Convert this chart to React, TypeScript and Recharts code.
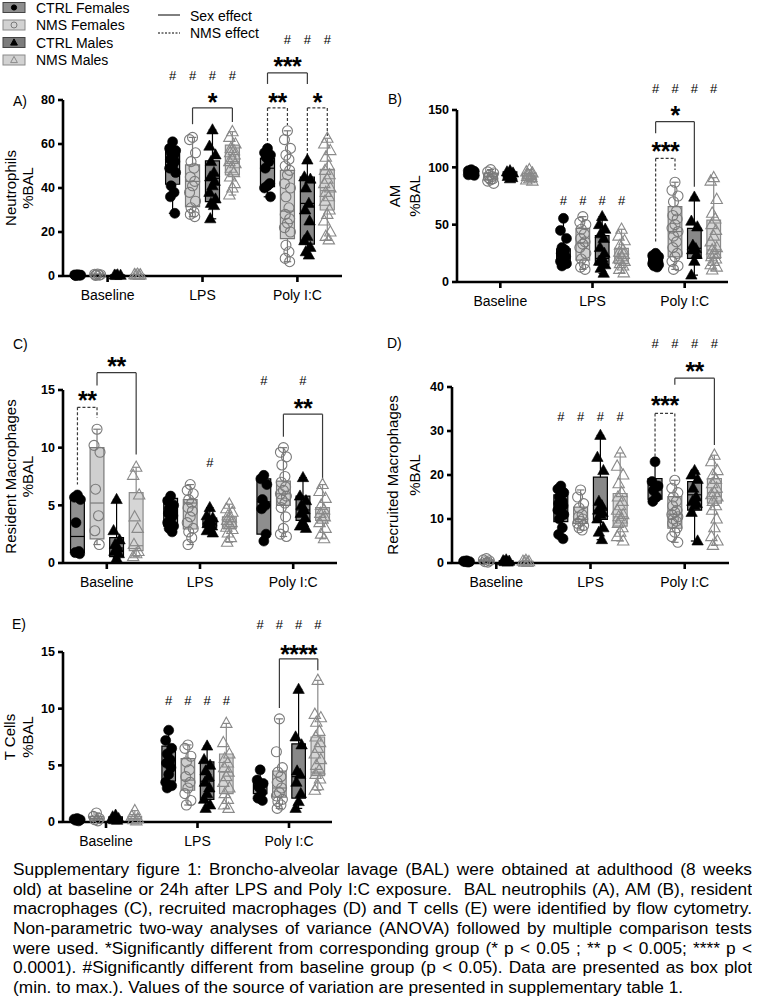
import React from 'react';
import {
  ComposedChart,
  XAxis,
  YAxis,
  Scatter,
  ReferenceArea,
  ReferenceLine,
  ReferenceDot,
} from 'recharts';

const FONT = '"Liberation Sans", Arial, Helvetica, sans-serif';

const CATEGORIES = ['Baseline', 'LPS', 'Poly I:C'];
const GROUPS = ['CTRL Females', 'NMS Females', 'CTRL Males', 'NMS Males'];

// ---------- A) Neutrophils %BAL ----------
const neutrophilsCtrlF = [
  [0.6, 0.5, 0.4, 0.3, 0.3, 0.2],
  [61, 58, 57, 56, 55, 53, 52, 50, 49, 47, 41, 38, 36, 28.5],
  [58, 56, 55, 54, 52, 49, 42, 41, 40, 36],
];
const neutrophilsNmsF = [
  [0.9, 0.8, 0.6, 0.5, 0.4, 0.3],
  [63, 62, 56, 52, 49, 45, 43, 41, 38, 34, 31, 29, 28, 27],
  [66, 62, 58, 55, 53, 50, 48, 46, 42, 40, 36, 31, 28, 26, 24, 22, 20, 14, 11, 8, 6.5],
];
const neutrophilsCtrlM = [
  [0.5, 0.4, 0.3, 0.2],
  [66.4, 59, 55, 52, 47, 45, 43, 41, 38, 35, 33, 32, 26],
  [52.7, 45, 44, 40, 33, 30, 25, 18, 16, 13, 11, 9.5],
];
const neutrophilsNmsM = [
  [0.8, 0.6, 0.5, 0.4, 0.3],
  [65.6, 63, 60, 58, 57, 56, 55, 53, 52, 51, 49, 47, 45, 42, 40, 36.8],
  [62.6, 60, 57, 54, 50, 48, 46, 44, 42, 40, 38, 36, 34, 30, 28, 25, 20, 18, 16.4],
];
// box statistics: [min, q1, median, q3, max]
const neutrophilsBoxCtrlF = [[0.2, 0.3, 0.35, 0.5, 0.6], [28.5, 41.7, 52, 57.7, 61], [36, 40.6, 49, 53.5, 58]];
const neutrophilsBoxNmsF = [[0.3, 0.4, 0.55, 0.8, 0.9], [27, 31.5, 43, 50.5, 63], [6.5, 17, 29.5, 48, 66]];
const neutrophilsBoxCtrlM = [[0.2, 0.25, 0.35, 0.45, 0.5], [26, 33.8, 44.4, 52.3, 66.4], [9.5, 14.5, 33, 45, 52.7]];
const neutrophilsBoxNmsM = [[0.3, 0.35, 0.5, 0.7, 0.8], [36.8, 46, 52, 59.5, 65.6], [16.4, 30, 38.8, 48.5, 62.6]];
const neutrophilsTicks = [0, 20, 40, 60, 80];
const neutrophilsHashes = [
  { cat: 1, groups: [0, 1, 2, 3], y: 91 },
  { cat: 2, groups: [1, 2, 3], y: 107.7 },
];
const neutrophilsBrackets = [
  { cat: 1, from: 1, to: 3, top: 76.4, left: 69, right: 70, dashed: false, stars: '*', starY: 81.5 },
  { cat: 2, from: 0, to: 2, top: 92.3, left: 87.3, right: 87.3, dashed: false, stars: '***', starY: 97.7 },
  { cat: 2, from: 0, to: 1, top: 76.4, left: 56.5, right: 68.6, dashed: true, stars: '**', starY: 81.5 },
  { cat: 2, from: 2, to: 3, top: 76.4, left: 54, right: 63, dashed: true, stars: '*', starY: 81.5 },
];

// ---------- B) AM %BAL ----------
const amCtrlF = [
  [98, 97, 96.5, 96, 95.5, 95, 94.5, 94, 93.5, 93],
  [55.5, 45, 38, 30, 28, 25, 22, 20, 18, 16, 14],
  [25, 23, 22, 21, 20, 19, 18, 17, 16, 15, 14, 13],
];
const amNmsF = [
  [98, 96, 95, 93, 92, 91, 90, 89, 88, 86],
  [57, 52, 50, 46, 42, 38, 35, 33, 30, 25, 20, 16, 13, 11],
  [87, 80, 75, 70, 62, 58, 55, 50, 47, 44, 40, 35, 30, 25, 22, 18, 14, 11],
];
const amCtrlM = [
  [97, 96, 95, 94, 93, 92, 91, 90],
  [57, 50, 46, 42, 38, 30, 25, 21, 18, 15, 12, 7.6],
  [74, 53, 48, 32, 29, 28, 24, 18, 6],
];
const amNmsM = [
  [98, 96, 95, 94, 93, 92, 91, 90, 89, 88],
  [46, 40, 36, 32, 28, 26, 24, 22, 20, 18, 16, 14, 11, 8],
  [91, 88, 72, 60, 55, 50, 45, 40, 35, 30, 28, 25, 22, 20, 18, 15, 13, 10.5],
];
const amBoxCtrlF = [[93, 94, 95.5, 97, 98], [14, 17, 22, 29, 55.5], [13, 14, 17, 22, 25]];
const amBoxNmsF = [[86, 89, 92, 95, 98], [11, 19, 34, 46.8, 57], [11, 22, 44, 65.7, 87]];
const amBoxCtrlM = [[90, 92, 94, 96, 97], [7.6, 15, 20.6, 40.4, 57], [6, 20.6, 29.4, 46.8, 74]];
const amBoxNmsM = [[88, 90, 92.5, 95, 98], [8, 16, 22, 29.4, 46], [10.5, 20.6, 28, 54, 91]];
const amTicks = [0, 50, 100, 150];
const amHashes = [
  { cat: 1, groups: [0, 1, 2, 3], y: 71.5 },
  { cat: 2, groups: [0, 1, 2, 3], y: 169 },
];
const amBrackets = [
  { cat: 2, from: 0, to: 2, top: 139.8, left: 129.7, right: 83, dashed: false, stars: '*', starY: 150 },
  { cat: 2, from: 0, to: 1, top: 107.8, left: 34, right: 97.7, dashed: true, stars: '***', starY: 118.6 },
];

// ---------- C) Resident Macrophages %BAL ----------
const residentCtrlF = [
  [5.9, 5.7, 5.5, 3.5, 1.0, 0.9, 0.8],
  [5.8, 5.4, 5.0, 4.7, 4.5, 4.3, 4.1, 3.8, 3.5, 3.2, 3.0, 2.7],
  [7.6, 7.3, 6.8, 5.5, 5.0, 4.7, 2.5, 1.9],
];
const residentNmsF = [
  [11.6, 10.2, 9.6, 6.4, 4.1, 2.8, 1.6],
  [6.8, 6.3, 6.0, 5.5, 5.2, 4.8, 4.5, 4.0, 3.5, 3.0, 2.7, 2.2, 1.6],
  [10.0, 9.6, 9.2, 8.5, 7.5, 7.0, 6.6, 6.3, 6.0, 5.8, 5.5, 5.2, 4.8, 4.0, 3.0, 2.5, 2.3],
];
const residentCtrlM = [
  [5.5, 2.8, 2.0, 1.6, 1.3, 1.0, 0.8, 0.4],
  [4.8, 4.1, 3.9, 3.7, 3.6, 3.4, 3.2, 3.0, 2.8, 2.6],
  [7.4, 5.8, 5.4, 5.0, 4.6, 4.3, 3.9, 3.5, 3.2, 3.0],
];
const residentNmsM = [
  [8.3, 7.6, 5.9, 4.0, 3.0, 1.6, 1.0, 0.8, 0.55],
  [5.1, 4.7, 4.4, 4.1, 3.9, 3.7, 3.5, 3.3, 3.1, 2.9, 2.6, 2.2, 1.8],
  [6.8, 6.2, 5.6, 5.0, 4.6, 4.3, 4.0, 3.8, 3.5, 3.0, 2.5, 2.1],
];
const residentBoxCtrlF = [[0.8, 0.9, 2.3, 5.5, 5.9], [2.7, 3.2, 4.4, 5.6, 5.8], [1.9, 2.5, 5.3, 7.3, 7.6]];
const residentBoxNmsF = [[1.6, 2.1, 5.2, 10, 11.6], [1.6, 2.95, 5.2, 5.5, 6.8], [2.3, 5.0, 6.0, 7.1, 10.0]];
const residentBoxCtrlM = [[0.4, 0.55, 1.3, 2.2, 5.5], [2.6, 3.1, 3.45, 3.9, 4.8], [3.0, 3.7, 4.6, 5.8, 7.4]];
const residentBoxNmsM = [[0.55, 1.07, 1.5, 6.1, 8.3], [1.8, 3.0, 3.6, 4.0, 5.1], [2.1, 3.7, 4.3, 4.8, 6.8]];
const residentTicks = [0, 5, 10, 15];
const residentHashes = [
  { cat: 1, groups: [2], y: 8.7 },
  { cat: 2, groups: [0, 2], y: 15.8 },
];
const residentBrackets = [
  { cat: 0, from: 1, to: 3, top: 16.5, left: 15.4, right: 9.4, dashed: false, stars: '**', starY: 17.5 },
  { cat: 0, from: 0, to: 1, top: 13.5, left: 6.8, right: 12.6, dashed: true, stars: '**', starY: 14.6 },
  { cat: 2, from: 1, to: 3, top: 12.9, left: 10.95, right: 7.2, dashed: false, stars: '**', starY: 13.9 },
];

// ---------- D) Recruited Macrophages %BAL ----------
const recruitedCtrlF = [
  [0.5, 0.4, 0.3, 0.3, 0.2],
  [17.5, 16.8, 16, 15, 14, 13.5, 13, 12.5, 12, 11, 10, 8, 6.5, 5.5],
  [23, 18.5, 17.5, 16.5, 15, 14],
];
const recruitedNmsF = [
  [1.0, 0.7, 0.5, 0.3, 0.2],
  [16.6, 15, 13.5, 12.5, 11, 10.5, 10, 9.5, 9, 8.5, 8, 7.5],
  [18.8, 17, 16, 15, 14, 13, 12, 11.5, 11, 10.5, 10, 9.5, 9, 8, 7, 6, 4.7],
];
const recruitedCtrlM = [
  [0.7, 0.5, 0.4, 0.3, 0.2],
  [29, 24, 21, 14, 13, 12, 11.5, 11, 10, 8, 7, 5.3],
  [21, 20, 19, 17, 15, 14, 13.5, 13, 11.5, 5],
];
const recruitedNmsM = [
  [0.6, 0.4, 0.3, 0.2, 0.1],
  [25, 22, 20, 18, 16, 15, 14, 13, 12, 11, 10.5, 10, 9, 8, 7, 6, 5],
  [24.5, 23, 21, 20, 19, 18, 17, 16, 15.5, 15, 14, 13, 12, 10, 8, 6, 5, 4],
];
const recruitedBoxCtrlF = [[0.2, 0.3, 0.3, 0.4, 0.5], [5.5, 9.4, 12.8, 15.5, 17.5], [14, 14.5, 16.6, 19.2, 23]];
const recruitedBoxNmsF = [[0.2, 0.3, 0.5, 0.7, 1.0], [7.5, 9.0, 9.9, 12.7, 16.6], [4.7, 7.9, 11.1, 15.1, 18.8]];
const recruitedBoxCtrlM = [[0.2, 0.3, 0.4, 0.5, 0.7], [5.3, 9.9, 12.0, 19.5, 29], [5, 12, 15.5, 18.5, 21]];
const recruitedBoxNmsM = [[0.1, 0.2, 0.3, 0.4, 0.6], [5, 8.4, 10.5, 15.8, 25], [4, 13.6, 16, 19.2, 24.5]];
const recruitedTicks = [0, 10, 20, 30, 40];
const recruitedHashes = [
  { cat: 1, groups: [0, 1, 2, 3], y: 33.4 },
  { cat: 2, groups: [0, 1, 2, 3], y: 50 },
];
const recruitedBrackets = [
  { cat: 2, from: 1, to: 3, top: 42, left: 40.5, right: 26.8, dashed: false, stars: '**', starY: 44.8 },
  { cat: 2, from: 0, to: 1, top: 34, left: 24.2, right: 20.4, dashed: true, stars: '***', starY: 37 },
];

// ---------- E) T Cells %BAL ----------
const tcellsCtrlF = [
  [0.3, 0.25, 0.2, 0.15, 0.1],
  [8.1, 7.2, 6.5, 6.0, 5.5, 5.2, 4.8, 4.2, 3.5, 3.2, 3.0],
  [4.6, 3.7, 3.4, 3.1, 2.6, 2.1, 1.9],
];
const tcellsNmsF = [
  [0.8, 0.5, 0.3, 0.2, 0.1],
  [6.8, 6.5, 5.8, 5.3, 4.6, 4.0, 3.5, 3.0, 2.5, 1.9, 1.5],
  [9.1, 6.2, 4.8, 4.4, 4.0, 3.5, 3.0, 2.6, 2.3, 2.0, 1.8, 1.5, 1.2],
];
const tcellsCtrlM = [
  [0.6, 0.45, 0.3, 0.2, 0.15],
  [6.7, 5.5, 5.0, 4.5, 4.0, 3.5, 3.0, 2.5, 2.0, 1.5, 1.2],
  [11.7, 7.5, 6.8, 4.5, 4.2, 3.5, 2.5, 1.8, 1.2],
];
const tcellsNmsM = [
  [1.0, 0.5, 0.3, 0.2, 0.1],
  [8.7, 7.0, 6.0, 5.6, 5.2, 4.8, 4.4, 4.0, 3.5, 3.0, 2.5, 2.0, 1.5, 1.2],
  [12.5, 9.5, 9.2, 8.8, 8.0, 7.5, 7.0, 6.5, 6.0, 5.5, 5.0, 4.6, 4.2, 3.8, 3.2, 2.8],
];
const tcellsBoxCtrlF = [[0.1, 0.15, 0.2, 0.25, 0.3], [3.0, 3.6, 5.2, 6.7, 8.1], [1.9, 2.5, 3.1, 3.6, 4.6]];
const tcellsBoxNmsF = [[0.1, 0.2, 0.3, 0.5, 0.8], [1.5, 2.8, 3.7, 5.6, 6.8], [1.2, 2.2, 3.0, 4.5, 9.1]];
const tcellsBoxCtrlM = [[0.15, 0.2, 0.3, 0.45, 0.6], [1.2, 2.0, 3.6, 5.3, 6.7], [1.2, 2.1, 4.0, 6.9, 11.7]];
const tcellsBoxNmsM = [[0.1, 0.2, 0.3, 0.5, 1.0], [1.2, 2.5, 4.4, 6.0, 8.7], [2.8, 4.1, 4.4, 7.5, 12.5]];
const tcellsTicks = [0, 5, 10, 15];
const tcellsHashes = [
  { cat: 1, groups: [0, 1, 2, 3], y: 10.7 },
  { cat: 2, groups: [0, 1, 2, 3], y: 17.4 },
];
const tcellsBrackets = [
  { cat: 2, from: 1, to: 3, top: 14.4, left: 10.05, right: 13.4, dashed: false, stars: '****', starY: 15.3 },
];

const CAPTION_LINES = [
  'Supplementary figure 1: Broncho-alveolar lavage (BAL) were obtained at adulthood (8 weeks',
  'old) at baseline or 24h after LPS and Poly I:C exposure.\u00a0 BAL neutrophils (A), AM (B), resident',
  'macrophages (C), recruited macrophages (D) and T cells (E) were identified by flow cytometry.',
  'Non-parametric two-way analyses of variance (ANOVA) followed by multiple comparison tests',
  'were used. *Significantly different from corresponding group (* p < 0.05 ; ** p < 0.005; **** p <',
  '0.0001). #Significantly different from baseline group (p < 0.05). Data are presented as box plot',
  '(min. to max.). Values of the source of variation are presented in supplementary table 1.',
];

// ---------- styling ----------
const GROUP_OFFSETS = [-0.315, -0.105, 0.105, 0.315];
const BOX_HALF = 0.074;
const CAP_HALF = 0.04;
const X_DOMAIN = [-0.47, 2.47];
const JITTER = [0, -3, 3, -1.5, 1.5, -2.2, 2.2];
const AXIS_STROKE = { stroke: '#000', strokeWidth: 2.6 };
const BRACKET_COLOR = '#3a3a3a';

const GROUP_STYLE = [
  { shape: 'circle', filled: true, mark: '#000', boxFill: '#8e8e8e', boxStroke: '#000' },
  { shape: 'circle', filled: false, mark: '#7a7a7a', boxFill: '#cfcfcf', boxStroke: '#7a7a7a' },
  { shape: 'triangle', filled: true, mark: '#000', boxFill: '#888888', boxStroke: '#000' },
  { shape: 'triangle', filled: false, mark: '#8a8a8a', boxFill: '#d6d6d6', boxStroke: '#8a8a8a' },
];

const PANELS = [
  {
    tag: 'A)', tagPos: [13, 106], title: ['Neutrophils', '%BAL'], titleX: [10, 27],
    left: 0, top: 0, width: 350, height: 310, margin: { top: 100, right: 8, bottom: 4, left: 0 }, yAxisWidth: 63,
    yDomain: [0, 80], yTicks: neutrophilsTicks,
    points: [neutrophilsCtrlF, neutrophilsNmsF, neutrophilsCtrlM, neutrophilsNmsM],
    boxes: [neutrophilsBoxCtrlF, neutrophilsBoxNmsF, neutrophilsBoxCtrlM, neutrophilsBoxNmsM],
    hashes: neutrophilsHashes, brackets: neutrophilsBrackets,
  },
  {
    tag: 'B)', tagPos: [388, 104], title: ['AM', '%BAL'], titleX: [14, 34],
    left: 380, top: 0, width: 382, height: 316, margin: { top: 110, right: 34, bottom: 4, left: 0 }, yAxisWidth: 77,
    yDomain: [0, 150], yTicks: amTicks,
    points: [amCtrlF, amNmsF, amCtrlM, amNmsM],
    boxes: [amBoxCtrlF, amBoxNmsF, amBoxCtrlM, amBoxNmsM],
    hashes: amHashes, brackets: amBrackets,
  },
  {
    tag: 'C)', tagPos: [13, 349], title: ['Resident Macrophages', '%BAL'], titleX: [10, 27],
    left: 0, top: 320, width: 350, height: 277, margin: { top: 70, right: 13, bottom: 4, left: 0 }, yAxisWidth: 63,
    yDomain: [0, 15], yTicks: residentTicks,
    points: [residentCtrlF, residentNmsF, residentCtrlM, residentNmsM],
    boxes: [residentBoxCtrlF, residentBoxNmsF, residentBoxCtrlM, residentBoxNmsM],
    hashes: residentHashes, brackets: residentBrackets,
  },
  {
    tag: 'D)', tagPos: [387, 348], title: ['Recruited Macrophages', '%BAL'], titleX: [12, 34],
    left: 380, top: 320, width: 382, height: 277, margin: { top: 67, right: 33, bottom: 4, left: 0 }, yAxisWidth: 72,
    yDomain: [0, 40], yTicks: recruitedTicks,
    points: [recruitedCtrlF, recruitedNmsF, recruitedCtrlM, recruitedNmsM],
    boxes: [recruitedBoxCtrlF, recruitedBoxNmsF, recruitedBoxCtrlM, recruitedBoxNmsM],
    hashes: recruitedHashes, brackets: recruitedBrackets,
  },
  {
    tag: 'E)', tagPos: [12, 629], title: ['T Cells', '%BAL'], titleX: [9, 27],
    left: 0, top: 600, width: 350, height: 256, margin: { top: 52, right: 18, bottom: 4, left: 0 }, yAxisWidth: 63,
    yDomain: [0, 15], yTicks: tcellsTicks,
    points: [tcellsCtrlF, tcellsNmsF, tcellsCtrlM, tcellsNmsM],
    boxes: [tcellsBoxCtrlF, tcellsBoxNmsF, tcellsBoxCtrlM, tcellsBoxNmsM],
    hashes: tcellsHashes, brackets: tcellsBrackets,
  },
];

const groupX = (cat: number, g: number) => cat + GROUP_OFFSETS[g];

function markerShape(g: number) {
  const st = GROUP_STYLE[g];
  return (props: any) => {
    const { cx, cy, payload } = props;
    if (cx == null || cy == null) return <g />;
    const x = cx + JITTER[(payload?.k ?? 0) % JITTER.length];
    if (st.shape === 'circle') {
      return (
        <circle cx={x} cy={cy} r={5} fill={st.filled ? '#000' : 'none'}
          stroke={st.mark} strokeWidth={st.filled ? 0.6 : 1.1} />
      );
    }
    return (
      <path d={`M${x},${cy - 6.2}L${x + 5.7},${cy + 4}L${x - 5.7},${cy + 4}Z`}
        fill={st.filled ? '#000' : 'none'} stroke={st.mark} strokeWidth={st.filled ? 0.6 : 1.1}
        strokeLinejoin="miter" />
    );
  };
}

function textShape(text: string, size: number, bold: boolean, lift: number) {
  return (props: any) => {
    const { cx, cy } = props;
    if (cx == null || cy == null) return <g />;
    return (
      <text x={cx} y={cy + lift} textAnchor="middle" fontFamily={FONT} fontSize={size}
        fontWeight={bold ? 700 : 400} fill="#000" letterSpacing={bold ? -0.5 : 0}>
        {text}
      </text>
    );
  };
}

function AxisTitle(props: any) {
  const { viewBox, lines, xs } = props;
  const cy = viewBox ? viewBox.y + viewBox.height / 2 : 0;
  return (
    <g>
      {lines.map((t: string, i: number) => (
        <text key={i} x={xs[i]} y={cy} transform={`rotate(-90 ${xs[i]} ${cy})`} textAnchor="middle"
          dominantBaseline="central" fontFamily={FONT} fontSize={15} fill="#000">
          {t}
        </text>
      ))}
    </g>
  );
}

function Panel({ cfg }: { cfg: any }) {
  const elements: any[] = [];

  // boxes, whiskers, caps and medians
  cfg.boxes.forEach((series: number[][], g: number) => {
    const st = GROUP_STYLE[g];
    series.forEach((stat: number[], cat: number) => {
      const [mn, q1, md, q3, mx] = stat;
      const x = groupX(cat, g);
      const k = `${g}-${cat}`;
      elements.push(
        <ReferenceLine key={`wl${k}`} segment={[{ x, y: mn }, { x, y: q1 }]} stroke={st.boxStroke}
          strokeWidth={1.2} ifOverflow="visible" />,
        <ReferenceLine key={`wh${k}`} segment={[{ x, y: q3 }, { x, y: mx }]} stroke={st.boxStroke}
          strokeWidth={1.2} ifOverflow="visible" />,
        <ReferenceLine key={`cl${k}`} segment={[{ x: x - CAP_HALF, y: mn }, { x: x + CAP_HALF, y: mn }]}
          stroke={st.boxStroke} strokeWidth={1.2} ifOverflow="visible" />,
        <ReferenceLine key={`ch${k}`} segment={[{ x: x - CAP_HALF, y: mx }, { x: x + CAP_HALF, y: mx }]}
          stroke={st.boxStroke} strokeWidth={1.2} ifOverflow="visible" />,
        <ReferenceArea key={`bx${k}`} x1={x - BOX_HALF} x2={x + BOX_HALF} y1={q1} y2={q3}
          fill={st.boxFill} fillOpacity={1} stroke={st.boxStroke} strokeWidth={1.2} ifOverflow="visible" />,
        <ReferenceLine key={`md${k}`} segment={[{ x: x - BOX_HALF, y: md }, { x: x + BOX_HALF, y: md }]}
          stroke={st.boxStroke} strokeWidth={1.2} ifOverflow="visible" />,
      );
    });
  });

  // individual animals
  cfg.points.forEach((series: number[][], g: number) => {
    const data: any[] = [];
    series.forEach((vals: number[], cat: number) => {
      vals.forEach((v, k) => data.push({ x: groupX(cat, g), y: v, k }));
    });
    elements.push(
      <Scatter key={`sc${g}`} name={GROUPS[g]} data={data} shape={markerShape(g)} isAnimationActive={false} />,
    );
  });

  // significance versus baseline
  cfg.hashes.forEach((row: any, r: number) => {
    row.groups.forEach((g: number) => {
      elements.push(
        <ReferenceDot key={`h${r}-${g}`} x={groupX(row.cat, g)} y={row.y} r={0} ifOverflow="visible"
          shape={textShape('#', 13, false, 4.6)} />,
      );
    });
  });

  // pairwise comparison brackets
  cfg.brackets.forEach((b: any, i: number) => {
    const x1 = groupX(b.cat, b.from);
    const x2 = groupX(b.cat, b.to);
    const dash = b.dashed ? '3 2' : undefined;
    elements.push(
      <ReferenceLine key={`bt${i}`} segment={[{ x: x1, y: b.top }, { x: x2, y: b.top }]} stroke={BRACKET_COLOR}
        strokeWidth={1.2} strokeDasharray={dash} ifOverflow="visible" />,
      <ReferenceLine key={`bl${i}`} segment={[{ x: x1, y: b.top }, { x: x1, y: b.left }]} stroke={BRACKET_COLOR}
        strokeWidth={1.2} strokeDasharray={dash} ifOverflow="visible" />,
      <ReferenceLine key={`br${i}`} segment={[{ x: x2, y: b.top }, { x: x2, y: b.right }]} stroke={BRACKET_COLOR}
        strokeWidth={1.2} strokeDasharray={dash} ifOverflow="visible" />,
      <ReferenceDot key={`bs${i}`} x={(x1 + x2) / 2} y={b.starY} r={0} ifOverflow="visible"
        shape={textShape(b.stars, 25, true, 14)} />,
    );
  });

  return (
    <div style={{ position: 'absolute', left: cfg.left, top: cfg.top }}>
      <ComposedChart width={cfg.width} height={cfg.height} margin={cfg.margin}>
        <XAxis type="number" dataKey="x" domain={X_DOMAIN} ticks={[0, 1, 2]} interval={0}
          tickFormatter={(v: number) => CATEGORIES[Math.round(v)] ?? ''} height={30}
          tickSize={6} tickMargin={8} axisLine={AXIS_STROKE} tickLine={AXIS_STROKE}
          tick={{ fontSize: 14, fill: '#000', fontFamily: FONT }} />
        <YAxis type="number" dataKey="y" domain={cfg.yDomain} ticks={cfg.yTicks} interval={0}
          width={cfg.yAxisWidth} tickSize={5} tickMargin={3} axisLine={AXIS_STROKE} tickLine={AXIS_STROKE}
          tick={{ fontSize: 12.5, fontWeight: 700, fill: '#000', fontFamily: FONT }}
          label={<AxisTitle lines={cfg.title} xs={cfg.titleX} />} />
        {elements}
      </ComposedChart>
    </div>
  );
}

function LegendIcon({ g, cy }: { g: number; cy: number }) {
  const st = GROUP_STYLE[g];
  const fill = g === 0 ? '#8e8e8e' : g === 2 ? '#7c7c7c' : '#d2d2d2';
  const x = 14;
  return (
    <g>
      <rect x={3} y={cy - 5} width={22} height={10} fill={fill} stroke={st.filled ? '#444' : '#8a8a8a'} strokeWidth={1} />
      {st.shape === 'circle' ? (
        <circle cx={x} cy={cy} r={st.filled ? 2.6 : 3} fill={st.filled ? '#000' : 'none'} stroke={st.mark} strokeWidth={1} />
      ) : (
        <path d={`M${x},${cy - 3.6}L${x + 3.4},${cy + 2.6}L${x - 3.4},${cy + 2.6}Z`}
          fill={st.filled ? '#000' : 'none'} stroke={st.mark} strokeWidth={1} />
      )}
    </g>
  );
}

export default function App() {
  const legendRows = [7.5, 25, 42.5, 60];
  return (
    <div style={{ position: 'absolute', left: 0, top: 0, width: 762, height: 1004, background: '#fff', overflow: 'hidden' }}>
      {PANELS.map((p, i) => (
        <Panel key={i} cfg={p} />
      ))}
      <svg width={762} height={1004} style={{ position: 'absolute', left: 0, top: 0, pointerEvents: 'none' }}>
        {GROUPS.map((name, g) => (
          <g key={name}>
            <LegendIcon g={g} cy={legendRows[g]} />
            <text x={36} y={legendRows[g] + 5} fontFamily={FONT} fontSize={14} fill="#000">{name}</text>
          </g>
        ))}
        <line x1={158} x2={180} y1={15} y2={15} stroke="#000" strokeWidth={1} />
        <text x={190} y={21} fontFamily={FONT} fontSize={14} fill="#000">Sex effect</text>
        <line x1={158} x2={180} y1={33} y2={33} stroke="#000" strokeWidth={1} strokeDasharray="2 1.5" />
        <text x={190} y={38} fontFamily={FONT} fontSize={14} fill="#000">NMS effect</text>
        {PANELS.map((p) => (
          <text key={p.tag} x={p.tagPos[0]} y={p.tagPos[1]} fontFamily={FONT} fontSize={14} fill="#000">{p.tag}</text>
        ))}
      </svg>
      <div style={{ position: 'absolute', left: 13, top: 860, width: 739, fontFamily: FONT, fontSize: 17.3, lineHeight: '19.7px', color: '#000' }}>
        {CAPTION_LINES.map((t, i) => (
          <div key={i} style={{ height: 19.7, overflow: 'hidden', textAlign: i < CAPTION_LINES.length - 1 ? 'justify' : 'left', textAlignLast: i < CAPTION_LINES.length - 1 ? 'justify' : 'left' } as any}>
            {t}
          </div>
        ))}
      </div>
    </div>
  );
}
